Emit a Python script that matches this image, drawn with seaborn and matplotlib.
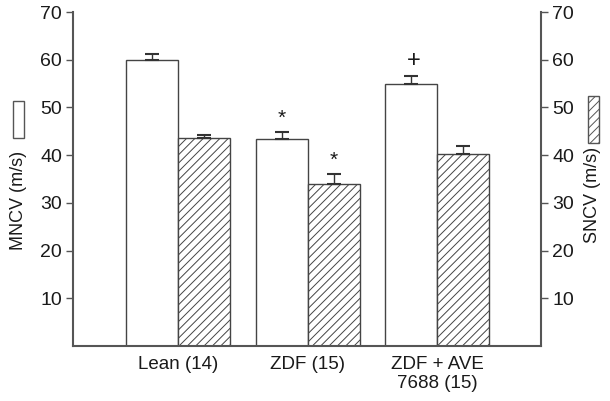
import matplotlib
matplotlib.use("Agg")
import matplotlib.pyplot as plt
import numpy as np
import pandas as pd
import seaborn as sns
from matplotlib.patches import Rectangle

GROUPS = ["Lean (14)", "ZDF (15)", "ZDF + AVE\n7688 (15)"]
MNCV = [60.0, 43.4, 55.0]
MNCV_ERR = [1.3, 1.4, 1.5]
SNCV = [43.5, 33.9, 40.2]
SNCV_ERR = [0.8, 2.1, 1.8]
Y_TICKS = [10, 20, 30, 40, 50, 60, 70]
MARKS = [(1, "MNCV", "*"), (1, "SNCV", "*"), (2, "MNCV", "+")]
AXIS_GRAY = "#555555"
TEXT = "#1a1a1a"

sns.set_theme(style="ticks")
plt.rcParams["font.family"] = ["Liberation Sans", "DejaVu Sans"]
plt.rcParams["hatch.color"] = "#444444"
plt.rcParams["hatch.linewidth"] = 0.7

df = pd.DataFrame({
    "group": GROUPS * 2,
    "measure": ["MNCV"] * 3 + ["SNCV"] * 3,
    "value": MNCV + SNCV,
})

fig = plt.figure(figsize=(6.1, 4.01), dpi=100)
ax = fig.add_axes([0.1197, 0.137, 0.887 - 0.1197, 0.970 - 0.137])

sns.barplot(data=df, x="group", y="value", hue="measure",
            palette=["white", "white"], edgecolor="#444444", linewidth=1.0,
            legend=False, errorbar=None, ax=ax, zorder=2)

for bar in ax.containers[1]:
    bar.set_hatch("////")

# one-sided error bars on top of each bar
for cont, errs in zip(ax.containers, [MNCV_ERR, SNCV_ERR]):
    xs = [b.get_x() + b.get_width() / 2 for b in cont]
    ys = [b.get_height() for b in cont]
    ax.errorbar(xs, ys, yerr=[np.zeros(len(errs)), errs], fmt="none",
                ecolor="#333333", elinewidth=1.0, capsize=5, capthick=1.5, zorder=3)

# significance marks
values = {"MNCV": (MNCV, MNCV_ERR, 0), "SNCV": (SNCV, SNCV_ERR, 1)}
for gi, meas, sym in MARKS:
    vals, errs, ci = values[meas]
    b = ax.containers[ci][gi]
    ax.text(b.get_x() + b.get_width() / 2 + (0.02 if sym == "+" else 0),
            vals[gi] + errs[gi] + 1.0, sym,
            ha="center", va="bottom", fontsize=17 if sym == "+" else 15, color=TEXT)

ax.set_xlim(-0.81, 2.8)
ax.set_ylim(0, 70)
ax.set_yticks(Y_TICKS)
ax.set_xlabel("")
ax.set_ylabel("")
ax.tick_params(axis="y", labelsize=14, length=5, width=1, color=AXIS_GRAY,
               labelcolor=TEXT, pad=3)
ax.tick_params(axis="x", labelsize=13.5, length=0, labelcolor=TEXT, pad=7)
for s in ["top", "right"]:
    ax.spines[s].set_visible(False)
for s in ["left", "bottom"]:
    ax.spines[s].set_color(AXIS_GRAY)
    ax.spines[s].set_linewidth(1.5)

ax2 = ax.twinx()
ax2.set_ylim(0, 70)
ax2.set_yticks(Y_TICKS)
ax2.tick_params(axis="y", labelsize=14, length=5, width=1, color=AXIS_GRAY,
                labelcolor=TEXT, pad=3)
for s in ["top", "left", "bottom"]:
    ax2.spines[s].set_visible(False)
ax2.spines["right"].set_color(AXIS_GRAY)
ax2.spines["right"].set_linewidth(1.5)

# axis titles with key boxes
fig.text(0.031, 1 - 200 / 401, "MNCV (m/s)", rotation=90, ha="center", va="center",
         fontsize=13, color=TEXT)
fig.add_artist(Rectangle((13 / 610, 1 - 138 / 401), 11 / 610, 37 / 401,
                         transform=fig.transFigure, facecolor="white",
                         edgecolor="#555555", linewidth=1.0))
fig.text(0.972, 1 - 195 / 401, "SNCV (m/s)", rotation=90, ha="center", va="center",
         fontsize=13, color=TEXT)
fig.add_artist(Rectangle((588 / 610, 1 - 143 / 401), 11 / 610, 47 / 401,
                         transform=fig.transFigure, facecolor="white",
                         edgecolor="#555555", linewidth=1.0, hatch="////"))

fig.savefig("out.png", dpi=100)
